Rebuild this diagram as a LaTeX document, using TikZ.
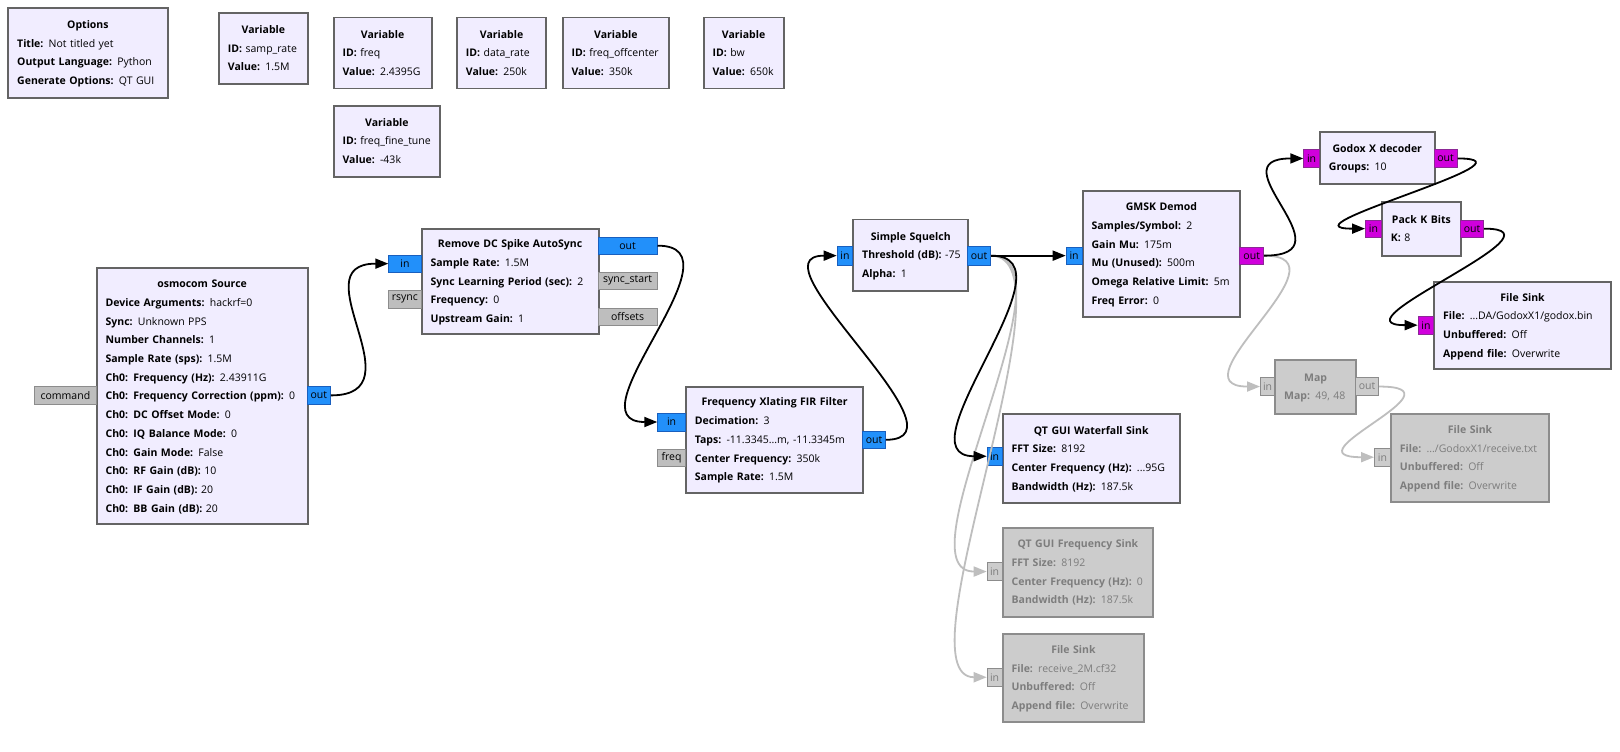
\documentclass[tikz,border=0pt]{standalone}
\usepackage{fontspec}
\setmainfont{Open Sans}
\usetikzlibrary{arrows.meta}
\definecolor{blkF}{RGB}{241,237,255}
\definecolor{blkD}{RGB}{100,100,100}
\definecolor{offF}{RGB}{204,204,204}
\definecolor{offD}{RGB}{140,140,140}
\definecolor{offT}{RGB}{125,125,125}
\definecolor{cpxF}{RGB}{34,144,250}
\definecolor{cpxD}{RGB}{25,95,190}
\definecolor{bytF}{RGB}{208,0,220}
\definecolor{bytD}{RGB}{140,40,150}
\definecolor{msgF}{RGB}{190,190,190}
\definecolor{msgD}{RGB}{140,140,140}
\definecolor{wireOff}{RGB}{190,190,190}
\tikzset{
  blk/.style={draw=blkD, fill=blkF, line width=1.8pt, anchor=north west,
    inner xsep=9pt, inner ysep=0pt, align=left, font=\fontsize{10.5}{18.7}\selectfont},
  blkoff/.style={blk, draw=offD, fill=offF, text=offT},
  pin/.style={line width=0.8pt, inner sep=0pt, anchor=north west, font=\fontsize{10.5}{12}\selectfont},
  cpx/.style={pin, fill=cpxF, draw=cpxD},
  byt/.style={pin, fill=bytF, draw=bytD},
  msg/.style={pin, fill=msgF, draw=msgD},
  pinoff/.style={pin, fill=offF, draw=offD, text=offT},
  wire/.style={line width=1.8pt, -{Triangle[length=13pt,width=10pt]}},
  wireoff/.style={wire, draw=wireOff}
}
% block: [style] name x1 y1 x2 y2 {text}
\newcommand\blk[7][blk]{%
  \pgfmathsetmacro\bw{#5-#3}\pgfmathsetmacro\bh{#6-#4}\pgfmathsetmacro\tw{#5-#3-18}%
  \node[#1, minimum width=\bw pt, minimum height=\bh pt, text width=\tw pt] (#2) at (#3,#4) {#7};}
% port: style name x1 y1 x2 y2 {label}
\newcommand\prt[7]{%
  \pgfmathsetmacro\pw{#5-#3}\pgfmathsetmacro\ph{#6-#4}%
  \node[#1, minimum width=\pw pt, minimum height=\ph pt] (#2) at (#3,#4) {#7};}
\newcommand\ttl[1]{\makebox[\hsize]{\strut\bfseries #1}}
\newcommand\prm[2]{\mbox{\strut\textbf{#1:} #2}}

\begin{document}
\begin{tikzpicture}[x=1pt, y=-1pt]
\fill[white] (0,0) rectangle (1620,752);
\useasboundingbox (0,0) rectangle (1620,752);
% ======== top row: options and variables ========
\blk{opts}{7.3}{7.3}{166.7}{96.7}{\ttl{Options}\\ \prm{Title}{Not titled yet}\\
  \prm{Output Language}{Python}\\ \prm{Generate Options}{QT GUI}}
\foreach \n/\xa/\ya/\xb/\yb/\id/\val in {
  1/218/12.3/307/83/samp\_rate/1.5M,
  2/332.7/16.7/430.7/87.7/freq/2.4395G,
  3/332.7/104.7/439.3/175.7/freq\_fine\_tune/-43k,
  4/456/16.7/545.3/87.7/data\_rate/250k,
  5/561.7/16.7/668.3/87.7/freq\_offcenter/350k,
  6/702.7/16.7/782.7/87.7/bw/650k}
  \blk{var\n}{\xa}{\ya}{\xb}{\yb}{\ttl{Variable}\\ \prm{ID}{\id}\\ \prm{Value}{\val}};
% ======== source and front end ========
\blk{osmo}{95.7}{267.3}{306.7}{523.3}{\ttl{osmocom Source}\\
  \prm{Device Arguments}{hackrf=0}\\ \prm{Sync}{Unknown PPS}\\
  \prm{Number Channels}{1}\\ \prm{Sample Rate (sps)}{1.5M}\\
  \prm{Ch0: Frequency (Hz)}{2.43911G}\\ \prm{Ch0: Frequency Correction (ppm)}{0}\\
  \prm{Ch0: DC Offset Mode}{0}\\ \prm{Ch0: IQ Balance Mode}{0}\\
  \prm{Ch0: Gain Mode}{False}\\ \prm{Ch0: RF Gain (dB)}{10}\\
  \prm{Ch0: IF Gain (dB)}{20}\\ \prm{Ch0: BB Gain (dB)}{20}}
\prt{msg}{osmo-cmd}{34.3}{386}{95.7}{404}{command}
\prt{cpx}{osmo-out}{306.7}{386}{330}{404}{out}
\blk{dcs}{420.7}{228.3}{597.7}{333}{\ttl{Remove DC Spike AutoSync}\\
  \prm{Sample Rate}{1.5M}\\ \prm{Sync Learning Period (sec)}{2}\\
  \prm{Frequency}{0}\\ \prm{Upstream Gain}{1}}
\prt{cpx}{dcs-in}{388.3}{254.5}{420.7}{272}{in}
\prt{msg}{dcs-rsync}{388.3}{290}{420.7}{307.5}{rsync}
\prt{cpx}{dcs-out}{597.7}{236.5}{656.7}{254}{out}
\prt{msg}{dcs-sync}{597.7}{271.5}{656.7}{289}{sync\_start}
\prt{msg}{dcs-offs}{597.7}{307.5}{656.7}{325}{offsets}
\blk{xlat}{685}{385.7}{862.3}{491.7}{\ttl{Frequency Xlating FIR Filter}\\
  \prm{Decimation}{3}\\ \prm{Taps}{-11.3345...m, -11.3345m}\\
  \prm{Center Frequency}{350k}\\ \prm{Sample Rate}{1.5M}}
\prt{cpx}{xlat-in}{657.3}{412.7}{685}{430.5}{in}
\prt{msg}{xlat-freq}{657.3}{448.5}{685}{466.3}{freq}
\prt{cpx}{xlat-out}{862.3}{430.5}{885}{448.3}{out}
% ======== squelch, demod and decoder chain ========
\blk{sq}{852.3}{218.5}{967.3}{290}{\ttl{Simple Squelch}\\
  \prm{Threshold (dB)}{-75}\\ \prm{Alpha}{1}}
\prt{cpx}{sq-in}{836.7}{246}{852.3}{264.5}{in}
\prt{cpx}{sq-out}{967.3}{246}{990}{264.5}{out}
\blk{gmsk}{1081.7}{190}{1239.3}{316}{\ttl{GMSK Demod}\\
  \prm{Samples/Symbol}{2}\\ \prm{Gain Mu}{175m}\\ \prm{Mu (Unused)}{500m}\\
  \prm{Omega Relative Limit}{5m}\\ \prm{Freq Error}{0}}
\prt{cpx}{gmsk-in}{1065.7}{246.5}{1081.7}{264}{in}
\prt{byt}{gmsk-out}{1239.3}{246.5}{1263.3}{264}{out}
\blk{godox}{1319}{130.7}{1433.7}{183.3}{\ttl{Godox X decoder}\\ \prm{Groups}{10}}
\prt{byt}{godox-in}{1303.3}{149.3}{1319}{166.8}{in}
\prt{byt}{godox-out}{1433.7}{149.3}{1456.7}{166.8}{out}
\blk{pack}{1381}{201}{1460}{255}{\ttl{Pack K Bits}\\ \prm{K}{8}}
\prt{byt}{pack-in}{1365}{219.5}{1381}{237}{in}
\prt{byt}{pack-out}{1460}{219.5}{1483.3}{237}{out}
\blk{fsink}{1433.3}{281}{1610}{368.3}{\ttl{File Sink}\\
  \prm{File}{...DA/GodoxX1/godox.bin}\\ \prm{Unbuffered}{Off}\\ \prm{Append file}{Overwrite}}
\prt{byt}{fsink-in}{1417.7}{316}{1433.3}{333.5}{in}
% ======== disabled map branch ========
\blk[blkoff]{map}{1274.3}{359.3}{1355}{412.7}{\ttl{Map}\\ \prm{Map}{49, 48}}
\prt{pinoff}{map-in}{1260}{377.3}{1274.3}{395}{in}
\prt{pinoff}{map-out}{1355}{377.3}{1378.3}{395}{out}
\blk[blkoff]{fsink2}{1390}{412.7}{1548.3}{501}{\ttl{File Sink}\\
  \prm{File}{.../GodoxX1/receive.txt}\\ \prm{Unbuffered}{Off}\\ \prm{Append file}{Overwrite}}
\prt{pinoff}{fsink2-in}{1374}{447.8}{1390}{465.8}{in}
% ======== sinks under the squelch ========
\blk{wfall}{1001.7}{413.3}{1179}{501.7}{\ttl{QT GUI Waterfall Sink}\\
  \prm{FFT Size}{8192}\\ \prm{Center Frequency (Hz)}{...95G}\\ \prm{Bandwidth (Hz)}{187.5k}}
\prt{cpx}{wfall-in}{986.7}{446.7}{1001.7}{465}{in}
\blk[blkoff]{fsnk}{1001.7}{526.7}{1152.3}{615.7}{\ttl{QT GUI Frequency Sink}\\
  \prm{FFT Size}{8192}\\ \prm{Center Frequency (Hz)}{0}\\ \prm{Bandwidth (Hz)}{187.5k}}
\prt{pinoff}{fsnk-in}{986.7}{562.3}{1001.7}{580}{in}
\blk[blkoff]{fsink3}{1001.7}{632.7}{1143.3}{721}{\ttl{File Sink}\\
  \prm{File}{receive\_2M.cf32}\\ \prm{Unbuffered}{Off}\\ \prm{Append file}{Overwrite}}
\prt{pinoff}{fsink3-in}{986.7}{667.7}{1001.7}{686}{in}
% ======== connections ========
\draw[wireoff] (sq-out.east) .. controls +(90,0) and +(-90,0) .. (fsnk-in.west);
\draw[wireoff] (sq-out.east) .. controls +(90,0) and +(-90,0) .. (fsink3-in.west);
\draw[wireoff] (gmsk-out.east) .. controls +(90,0) and +(-90,0) .. (map-in.west);
\draw[wireoff] (map-out.east) .. controls +(90,0) and +(-90,0) .. (fsink2-in.west);
\draw[wire] (osmo-out.east) .. controls +(90,0) and +(-90,0) .. (dcs-in.west);
\draw[wire] (dcs-out.east) .. controls +(90,0) and +(-90,0) .. (xlat-in.west);
\draw[wire] (xlat-out.east) .. controls +(90,0) and +(-90,0) .. (sq-in.west);
\draw[wire] (sq-out.east) -- (gmsk-in.west);
\draw[wire] (sq-out.east) .. controls +(90,0) and +(-90,0) .. (wfall-in.west);
\draw[wire] (gmsk-out.east) .. controls +(90,0) and +(-90,0) .. (godox-in.west);
\draw[wire] (godox-out.east) .. controls +(90,0) and +(-90,0) .. (pack-in.west);
\draw[wire] (pack-out.east) .. controls +(90,0) and +(-90,0) .. (fsink-in.west);
\end{tikzpicture}
\end{document}
